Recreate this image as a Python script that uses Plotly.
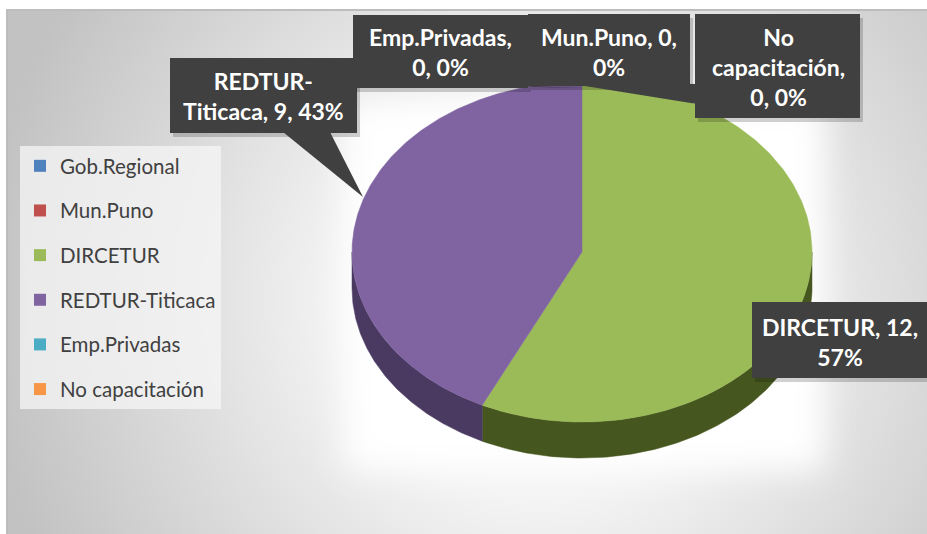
import base64
import numpy as np
import plotly.graph_objects as go

# ---------------- data ----------------
categories = ["Gob.Regional", "Mun.Puno", "DIRCETUR", "REDTUR-Titicaca", "Emp.Privadas", "No capacitación"]
values = [0, 0, 12, 9, 0, 0]
colors = ["#4F81BD", "#C0504D", "#9BBB59", "#8064A2", "#4BACC6", "#F79646"]
side_colors = ["#2f4d72", "#73302e", "#46561f", "#4a3a62", "#2d6777", "#94592a"]

total = sum(values)
pct = [round(100 * v / total) for v in values]

# ---------------- geometry (pixel space) ----------------
W, H = 927, 534
CX, CY, RX, RY, DEPTH = 582, 252, 230, 170, 36


def ell(theta_deg, dy=0.0):
    t = np.radians(theta_deg)
    return CX + RX * np.sin(t), CY - RY * np.cos(t) + dy


fig = go.Figure()

# cumulative angles (clockwise from 12 o'clock)
starts, ends = [], []
acc = 0.0
for v in values:
    a0 = acc
    acc += 360.0 * v / total
    starts.append(a0)
    ends.append(acc)

# side walls (front half only: 90..270 deg)
for i, v in enumerate(values):
    if v == 0:
        continue
    a0, a1 = max(starts[i], 90), min(ends[i], 270)
    if a1 <= a0:
        continue
    th = np.linspace(a0, a1, 120)
    xt, yt = ell(th)
    xb, yb = ell(th[::-1], DEPTH)
    fig.add_trace(go.Scatter(
        x=np.concatenate([xt, xb, xt[:1]]), y=np.concatenate([yt, yb, yt[:1]]),
        mode="lines", fill="toself", fillcolor=side_colors[i],
        line=dict(width=0.5, color=side_colors[i]), showlegend=False, hoverinfo="skip"))

# top faces
for i, v in enumerate(values):
    if v == 0:
        continue
    th = np.linspace(starts[i], ends[i], 240)
    xa, ya = ell(th)
    fig.add_trace(go.Scatter(
        x=np.concatenate([[CX], xa, [CX]]), y=np.concatenate([[CY], ya, [CY]]),
        mode="lines", fill="toself", fillcolor=colors[i],
        line=dict(width=0.5, color=colors[i]), showlegend=False,
        name=categories[i], text=f"{categories[i]}: {v} ({pct[i]}%)", hoverinfo="text"))

# legend entries
for i, c in enumerate(categories):
    fig.add_trace(go.Scatter(
        x=[None], y=[None], mode="markers", name=c, legendgroup=c,
        marker=dict(symbol="square", size=14, color=colors[i])))

# ---------------- callout labels ----------------
def label_text(i, mode):
    t = f"{categories[i]}, {values[i]}, {pct[i]}%"
    if mode == "last":
        a, b = t.rsplit(", ", 1)
        return a + ",<br>" + b
    if mode == "first":
        return t.replace(", ", ",<br>", 1)
    if mode == "hyphen":
        return t.replace("-", "-<br>", 1)
    if mode == "space_first":
        t = t.replace(" ", "<br>", 1)
        return t.replace(", ", ",<br>", 1)
    return t


# box: (x0, y0, x1, y1, text_x, text_y, wrap mode, pointer polygon)
boxes = {
    "REDTUR-Titicaca": (170, 58, 357, 133, 263, 96, "hyphen", [(283, 132), (330, 132), (363, 197)]),
    "Emp.Privadas": (353, 15, 528, 88, 440, 52, "first", [(500, 86), (528, 86), (580, 88)]),
    "Mun.Puno": (528, 14, 690, 86, 609, 52, "last", None),
    "No capacitación": (695, 14, 860, 118, 778, 67, "space_first", [(697, 84), (697, 104), (560, 82)]),
    "DIRCETUR": (752, 302, 935, 378, 840, 342, "last", [(813, 281), (752, 345), (752, 303), (792, 303)]),
}

shapes = []
annotations = []
order = ["REDTUR-Titicaca", "Emp.Privadas", "Mun.Puno", "No capacitación", "DIRCETUR"]
for name in order:
    x0, y0, x1, y1, tx, ty, mode, ptr = boxes[name]
    i = categories.index(name)
    shapes.append(dict(type="rect", xref="x", yref="y", x0=x0 + 3, y0=y0 + 4, x1=x1 + 3, y1=y1 + 4,
                       fillcolor="rgba(0,0,0,0.18)", line=dict(width=0), layer="above"))
    if ptr:
        path = "M " + " L ".join(f"{px},{py}" for px, py in ptr) + " Z"
        shapes.append(dict(type="path", xref="x", yref="y", path=path,
                           fillcolor="#404040", line=dict(width=0), layer="above"))
    shapes.append(dict(type="rect", xref="x", yref="y", x0=x0, y0=y0, x1=x1, y1=y1,
                       fillcolor="#404040", line=dict(width=0), layer="above"))
    annotations.append(dict(x=tx, y=ty, xref="x", yref="y", text=label_text(i, mode),
                            showarrow=False, align="center",
                            font=dict(family="Lato, 'Open Sans', sans-serif", size=23, color="white", weight="bold")))

# ---------------- background (gradient) ----------------
svg = f"""<svg xmlns="http://www.w3.org/2000/svg" width="{W}" height="{H}" viewBox="0 0 {W} {H}">
<defs>
<radialGradient id="g" cx="540" cy="300" r="560" gradientUnits="userSpaceOnUse">
<stop offset="0" stop-color="#ffffff"/>
<stop offset="0.35" stop-color="#f4f4f4"/>
<stop offset="1" stop-color="#c2c2c2"/>
</radialGradient>
<filter id="b" x="-20%" y="-20%" width="140%" height="140%"><feGaussianBlur stdDeviation="16"/></filter>
</defs>
<rect x="0" y="0" width="{W}" height="{H}" fill="#ffffff"/>
<rect x="7" y="10" width="{W+10}" height="{H+10}" fill="url(#g)" stroke="#bdbdbd" stroke-width="2"/>
<rect x="345" y="100" width="480" height="370" fill="#ffffff" filter="url(#b)"/>
</svg>"""
src = "data:image/svg+xml;base64," + base64.b64encode(svg.encode("utf-8")).decode("ascii")

fig.update_layout(
    width=W, height=H, autosize=False,
    margin=dict(l=0, r=0, t=0, b=0),
    paper_bgcolor="white", plot_bgcolor="rgba(0,0,0,0)",
    xaxis=dict(range=[0, W], visible=False, fixedrange=True),
    yaxis=dict(range=[H, 0], visible=False, fixedrange=True),
    images=[dict(source=src, xref="paper", yref="paper", x=0, y=1, sizex=1, sizey=1,
                 xanchor="left", yanchor="top", sizing="stretch", layer="below")],
    shapes=shapes,
    annotations=annotations,
    showlegend=True,
    legend=dict(x=20 / W, y=1 - 146 / H, xanchor="left", yanchor="top",
                bgcolor="rgba(246,246,246,0.75)", borderwidth=0,
                font=dict(family="Lato, 'Open Sans', sans-serif", size=20.5, color="#404040"),
                tracegroupgap=15, itemsizing="constant"),
    hovermode="closest",
)

fig.write_html("out.html", config={"displayModeBar": False},
               post_script="document.body.style.margin='0';document.body.style.overflow='hidden';")
